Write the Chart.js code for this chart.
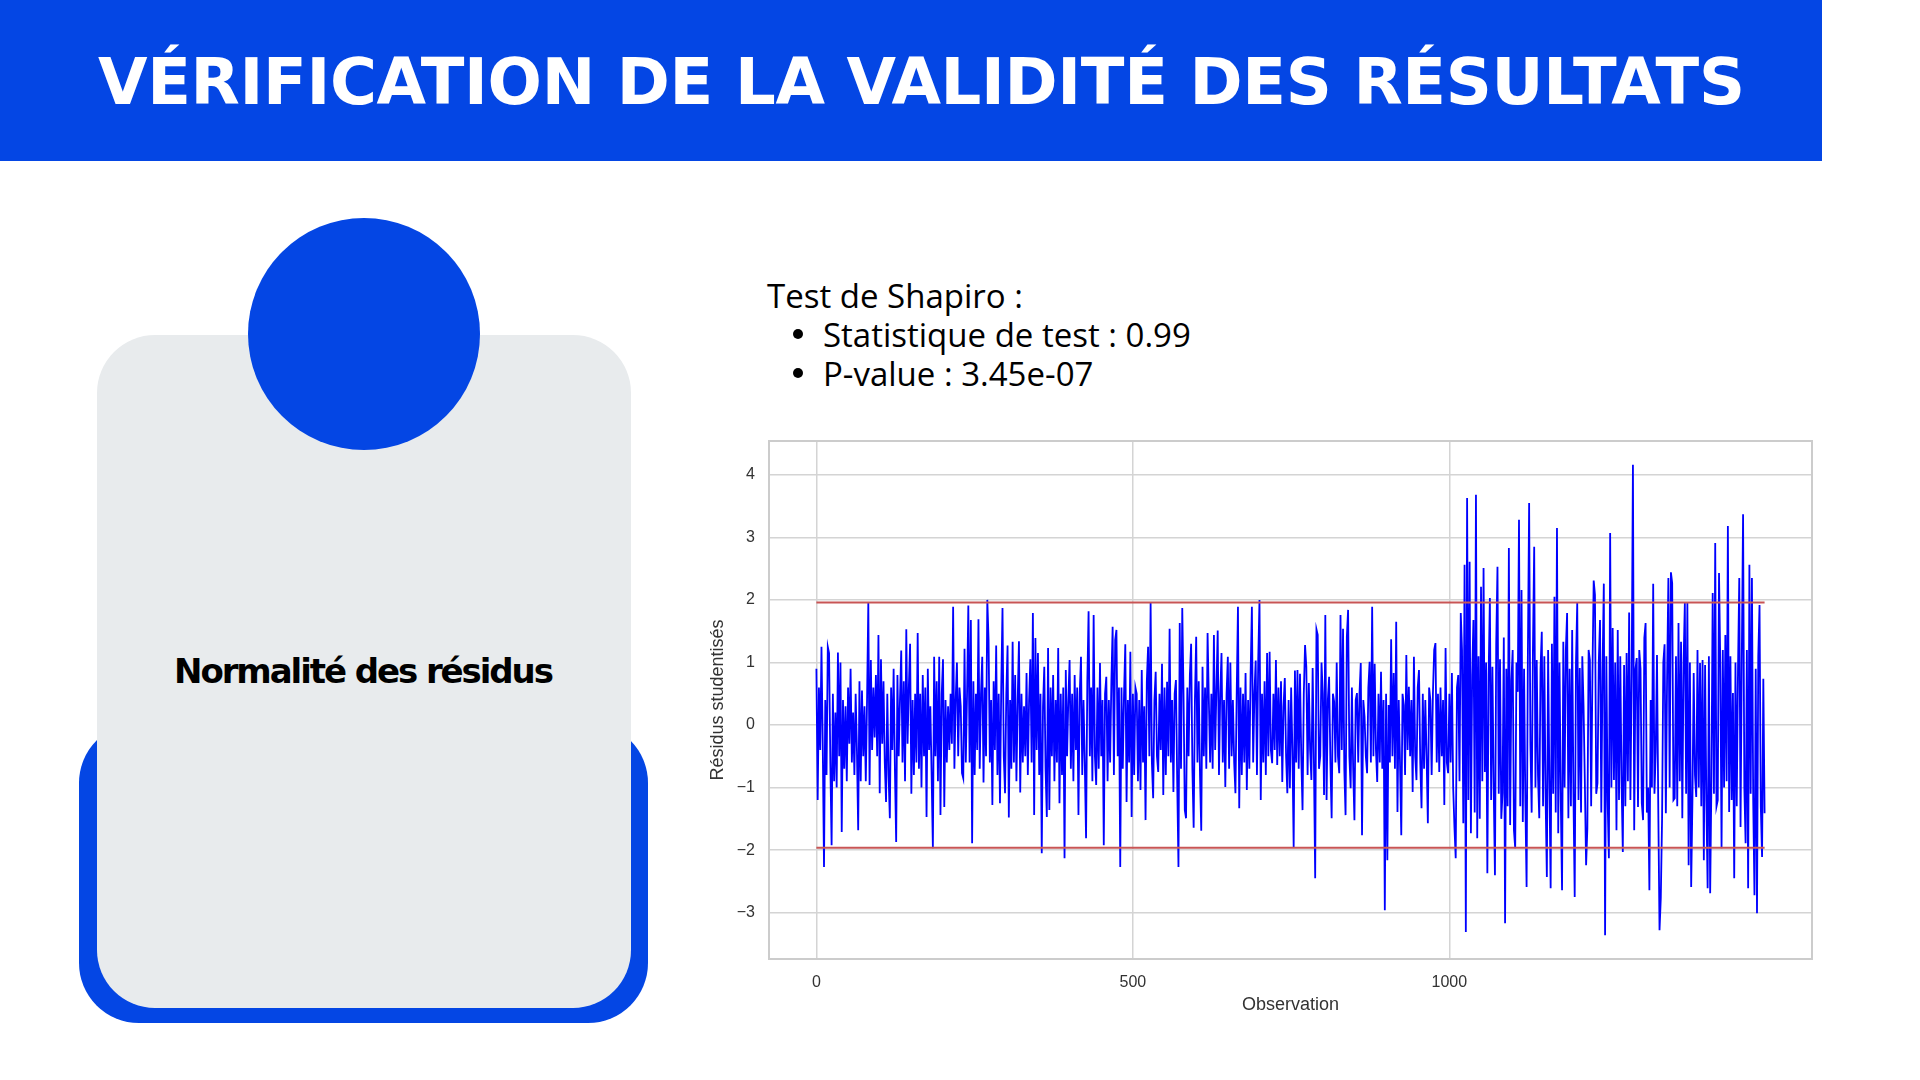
<!DOCTYPE html>
<html lang="fr">
<head>
<meta charset="utf-8">
<title>Vérification de la validité des résultats</title>
<script src="https://cdn.jsdelivr.net/npm/chart.js@4.4.1/dist/chart.umd.min.js"></script>
<style>
  html, body { margin: 0; padding: 0; }
  body { width: 1920px; height: 1080px; position: relative; overflow: hidden; background: #ffffff; font-family: "Open Sans", sans-serif; }
  .bandeau { position: absolute; left: 0; top: 0; width: 1822px; height: 161px; background: #0446e4; }
  .titre { position: absolute; left: 98px; top: 50px; margin: 0; font-family: "DejaVu Sans", sans-serif; font-weight: 700; font-size: 64px; line-height: 64px; color: #ffffff; white-space: nowrap; }
  .fond-bleu { position: absolute; left: 79px; top: 723px; width: 569px; height: 300px; background: #0446e4; border-radius: 60px; }
  .carte { position: absolute; left: 97px; top: 335px; width: 534px; height: 673px; background: #e8ebed; border-radius: 58px; }
  .rond { position: absolute; left: 248px; top: 218px; width: 232px; height: 232px; border-radius: 50%; background: #0446e4; }
  .label-carte { position: absolute; left: 174px; top: 653px; font-family: "DejaVu Sans", sans-serif; font-weight: 700; font-size: 34px; line-height: 36px; color: #000000; white-space: nowrap; }
  .ligne { position: absolute; font-size: 33px; line-height: 39px; color: #000000; white-space: nowrap; }
  .puce { position: absolute; width: 10px; height: 10px; border-radius: 50%; background: #000000; }
  #residusChart { position: absolute; left: 700px; top: 430px; }
</style>
</head>
<body>
<div class="bandeau"></div>
<h1 class="titre" id="titre">VÉRIFICATION DE LA VALIDITÉ DES RÉSULTATS</h1>

<div class="fond-bleu"></div>
<div class="carte"></div>
<div class="rond"></div>
<div class="label-carte" id="labelCarte">Normalité des résidus</div>

<div class="ligne" style="left:767px; top:276px;">Test de Shapiro :</div>
<div class="puce" style="left:793px; top:329px;"></div>
<div class="ligne" style="left:823px; top:315px;">Statistique de test : 0.99</div>
<div class="puce" style="left:793px; top:368px;"></div>
<div class="ligne" style="left:823px; top:354px;">P-value : 3.45e-07</div>

<canvas id="residusChart" width="1130" height="600"></canvas>

<script>
// résidus studentisés, une valeur toutes les 2 observations
const obsStep = 2;
const residus = [
  0.9,-1.2,0.6,-0.4,1.25,-0.3,-2.27,0.4,-0.8,1.25,
  1.15,-0.6,-1.92,0.5,-0.9,0.2,-1.0,1.16,-0.5,1.0,
  -1.71,0.4,-0.7,0.3,-0.9,0.6,-0.3,0.9,-0.6,0.2,
  -0.8,0.5,-0.4,-1.68,0.7,-0.9,0.55,-0.5,0.3,-0.9,
  0.4,1.95,-0.96,1.04,-0.4,0.6,-0.2,0.8,-0.5,1.44,
  -1.09,1.05,-0.3,0.7,-0.6,-1.23,0.5,-0.8,-1.49,0.6,
  -0.4,0.9,-0.7,-1.87,0.8,-0.5,0.4,1.19,-0.6,0.7,
  -0.9,1.53,-0.3,0.6,1.3,-1.1,0.4,-0.8,0.5,-0.6,
  1.47,-0.7,0.5,-1.0,0.8,-0.5,0.6,-1.47,0.9,-0.4,
  0.3,-0.8,-1.97,1.09,-0.5,0.7,-0.9,1.09,-1.44,0.5,
  1.05,-1.31,0.4,-0.6,0.3,-0.4,0.5,-0.3,1.89,-0.7,
  0.4,1.0,-0.5,0.6,0.3,-0.77,-0.85,1.22,-0.6,0.5,
  1.91,-0.6,1.68,-1.89,0.7,-0.8,0.5,-0.4,1.69,-0.7,
  0.5,1.09,-0.92,0.6,-0.5,2.0,1.36,-0.6,0.4,-1.28,
  0.7,-0.4,1.27,-0.8,0.5,-1.25,0.6,1.87,-0.5,-1.09,
  0.5,1.27,-1.48,0.4,-0.7,1.33,-0.6,0.8,-0.9,0.4,
  1.34,-1.08,0.5,-0.6,0.3,-0.5,0.83,-0.8,0.4,1.05,
  -0.6,1.79,-1.44,1.39,-0.4,1.15,-0.8,0.5,-2.05,0.3,
  0.93,-0.7,-1.47,1.23,-1.36,0.6,-0.5,0.8,-0.9,0.4,
  -0.6,1.23,-1.25,0.5,-0.8,0.6,-2.13,0.88,-0.5,0.4,
  1.04,-0.7,0.5,-0.9,0.8,-0.4,0.6,-1.44,0.5,1.09,
  -0.8,0.4,-0.6,-1.81,0.7,1.82,-0.5,0.6,-0.9,1.76,
  -0.5,-0.96,0.6,-0.7,0.99,-0.5,0.4,-1.92,0.5,0.77,
  -0.9,0.4,-0.6,0.7,1.57,-0.8,1.36,1.52,-0.5,0.6,
  -2.27,0.6,-0.7,0.5,1.29,-1.23,0.4,-0.6,1.17,-1.47,
  0.5,-0.8,0.6,0.5,-0.9,0.4,-1.04,0.88,-0.6,0.3,
  -1.52,0.7,1.25,-0.5,1.95,-0.6,-1.17,0.4,0.85,-0.5,
  -0.75,0.5,-0.4,0.98,-1.12,0.6,-0.8,0.69,-0.5,1.54,
  -0.6,0.4,-1.07,0.5,0.72,-0.9,-2.27,1.63,-0.7,1.87,
  0.5,-1.36,-1.49,0.6,-0.5,0.8,1.3,-0.7,-1.64,0.4,
  1.41,-0.6,0.7,-0.8,-1.69,0.93,-0.5,0.6,-0.7,1.47,
  0.4,-0.6,0.5,-0.7,1.44,-0.4,0.6,1.51,-0.8,0.5,
  1.15,-0.6,0.4,-0.99,0.5,1.09,-0.7,1.0,-0.5,0.4,
  -0.6,-1.09,0.5,1.89,-1.33,0.6,-0.8,0.5,-0.6,0.83,
  -1.04,0.4,-0.7,0.83,1.89,-0.6,0.5,1.03,-0.8,1.04,
  2.0,-1.2,0.5,-0.6,0.7,-0.8,1.15,-0.5,1.17,-0.4,
  -0.61,0.5,-0.4,1.04,-0.64,0.6,-0.5,0.7,-0.91,0.3,
  0.75,-0.5,-1.09,0.4,-1.01,0.6,-0.4,-1.95,0.87,-0.6,
  0.88,-0.7,0.82,-0.5,-1.36,0.5,1.28,0.93,-0.8,0.67,
  -0.4,-0.88,0.91,-0.6,-2.45,1.53,1.44,-0.7,-0.5,1.0,
  0.5,-1.12,1.76,-1.2,0.4,0.77,-0.6,-1.49,0.5,0.37,
  -0.6,1.0,-0.5,-0.77,1.76,-0.4,1.54,-0.7,-1.44,1.41,
  1.84,-0.5,-1.01,0.6,-0.7,-1.52,0.4,0.51,-0.6,0.5,
  0.99,-1.76,0.4,0.13,-0.5,-0.77,0.6,1.01,-0.6,1.89,
  -0.5,0.98,-0.4,-0.91,0.5,-0.6,0.85,-0.7,0.4,-2.96,
  0.5,-2.16,0.32,-0.6,1.37,-0.5,0.83,-0.7,1.65,-1.39,
  0.4,-0.6,-1.76,0.5,0.32,-0.8,1.12,-0.4,0.61,-0.5,
  0.4,-1.07,1.09,-0.5,-0.88,0.6,0.88,-0.6,-1.33,0.5,
  -0.7,0.4,-0.5,-1.57,0.6,0.4,-0.8,0.5,1.2,1.31,
  -0.6,0.5,-0.75,0.6,-0.5,0.4,-1.28,1.23,-0.6,-0.77,
  0.5,-0.6,0.83,-1.0,-1.63,-2.13,0.6,0.8,-0.9,1.79,
  1.2,-1.57,2.56,-3.31,3.63,-1.2,2.61,-1.73,0.8,1.68,
  -1.4,3.68,-1.81,1.1,-1.5,2.21,-0.9,2.51,-0.75,1.0,
  -2.37,0.8,2.03,-1.2,0.93,-1.0,-2.4,1.3,2.53,-1.1,
  1.05,-1.5,-1.09,1.4,-3.17,0.9,-1.3,2.83,-1.6,0.72,
  1.2,-1.68,-1.97,1.0,0.53,3.28,-1.3,2.16,-1.55,0.9,
  -1.2,-2.59,1.1,3.55,-0.29,-1.4,1.2,2.85,-1.0,1.04,
  -0.8,-1.49,0.9,1.49,-1.3,1.1,-1.15,-2.43,1.2,-0.9,
  -2.61,1.3,-1.1,2.05,-1.4,3.15,-1.73,1.0,-1.2,-2.64,
  1.33,-1.0,1.2,1.79,-1.49,0.9,-1.3,1.52,-1.1,-2.75,
  1.0,1.95,-1.2,0.91,-1.4,1.1,0.29,-0.9,-2.24,-1.65,
  1.2,1.04,-1.3,0.8,2.31,2.08,-1.1,-0.93,1.0,1.68,
  -1.4,0.9,2.26,-3.36,1.1,-1.2,-2.13,3.07,-1.0,1.55,
  -0.88,1.0,-1.68,1.52,-1.2,1.1,-0.9,-2.03,0.96,-1.3,
  1.15,-0.9,1.8,-1.2,0.8,4.16,-1.68,0.9,1.07,-1.31,
  1.2,0.9,-1.25,-1.52,1.39,1.63,-1.4,-1.0,-2.64,0.4,
  -1.0,2.26,-1.1,-0.43,1.12,-1.3,-3.28,-2.77,-1.52,1.0,
  1.29,-1.41,0.8,2.35,-1.0,2.44,2.27,-1.2,-1.17,1.1,
  -1.3,1.63,-0.9,1.33,-1.49,1.0,1.95,-1.1,1.96,-2.24,
  1.0,-2.59,-1.2,0.83,-0.8,-1.15,1.2,-1.0,0.99,-1.3,
  1.04,-2.16,0.96,-1.2,-2.61,1.1,-2.69,-0.9,2.11,-1.1,
  2.91,-1.3,-1.2,2.43,1.0,-1.97,1.2,-1.0,1.44,-0.9,
  3.18,-1.39,1.1,-1.2,0.51,-2.45,1.0,-1.3,0.9,2.35,
  -1.63,1.1,3.37,-1.0,-1.89,1.2,-2.61,2.56,-1.1,2.35,
  -1.2,-2.72,0.9,-3.01,1.1,1.92,-1.3,-2.11,0.74,-1.41
];
const seuil = 1.96;
const xTicks = [0, 500, 1000];
const yTicks = [-3, -2, -1, 0, 1, 2, 3, 4];

const derniereObs = (residus.length - 1) * obsStep;
const points = residus.map((v, i) => ({ x: i * obsStep, y: v }));

const texteAxe = '#333333';
const police = '"Liberation Sans", Arial, sans-serif';

// cadre gris autour de la zone de tracé
const cadre = {
  id: 'cadre',
  beforeDatasetsDraw(chart) {
    const { ctx, chartArea: a } = chart;
    ctx.save();
    ctx.strokeStyle = '#cccccc';
    ctx.lineWidth = 2;
    ctx.strokeRect(a.left, a.top, a.right - a.left, a.bottom - a.top);
    ctx.restore();
  }
};

function sansMarge(s) {
  s.paddingTop = 0; s.paddingBottom = 0; s.paddingLeft = 0; s.paddingRight = 0;
}

new Chart(document.getElementById('residusChart'), {
  type: 'line',
  data: {
    datasets: [
      {
        label: 'Résidus',
        data: points,
        borderColor: '#0000ff',
        borderWidth: 1.8,
        pointRadius: 0,
        tension: 0,
        order: 1
      },
      {
        label: 'seuil haut',
        data: [{ x: 0, y: seuil }, { x: derniereObs, y: seuil }],
        borderColor: 'rgb(200,85,85)',
        borderWidth: 2,
        pointRadius: 0,
        order: 0
      },
      {
        label: 'seuil bas',
        data: [{ x: 0, y: -seuil }, { x: derniereObs, y: -seuil }],
        borderColor: 'rgb(200,85,85)',
        borderWidth: 2,
        pointRadius: 0,
        order: 0
      }
    ]
  },
  options: {
    responsive: false,
    animation: false,
    events: [],
    layout: { padding: { left: 0, top: 11, right: 18, bottom: 0 } },
    plugins: { legend: { display: false }, tooltip: { enabled: false } },
    scales: {
      x: {
        type: 'linear',
        min: -0.05 * derniereObs,
        max: derniereObs * 1.05,
        afterBuildTicks: s => { s.ticks = xTicks.map(v => ({ value: v })); },
        afterFit: s => { s.height = 71; sansMarge(s); },
        border: { display: false },
        grid: { color: '#d4d4d4', lineWidth: 1.5, drawTicks: false },
        ticks: {
          padding: 14, color: texteAxe, font: { family: police, size: 16 }, maxRotation: 0,
          callback: v => String(v)
        },
        title: { display: true, text: 'Observation', color: texteAxe, font: { family: police, size: 18 }, padding: { top: 0, bottom: 14 } }
      },
      y: {
        min: -3.74,
        max: 4.54,
        afterBuildTicks: s => { s.ticks = yTicks.map(v => ({ value: v })); },
        afterFit: s => { s.width = 69; sansMarge(s); },
        border: { display: false },
        grid: { color: '#d4d4d4', lineWidth: 1.5, drawTicks: false },
        ticks: {
          padding: 14, color: texteAxe, font: { family: police, size: 16 },
          callback: v => (v < 0 ? '\u2212' + Math.abs(v) : String(v))
        },
        title: { display: true, text: 'Résidus studentisés', color: texteAxe, font: { family: police, size: 18 }, padding: { top: 7, bottom: 0 } }
      }
    }
  },
  plugins: [cadre]
});

// ajuste l'interlettrage pour retrouver la largeur des textes
function ajusteLargeur(id, cible) {
  const el = document.getElementById(id);
  el.style.letterSpacing = '0px';
  const w = el.getBoundingClientRect().width;
  const n = el.textContent.length;
  el.style.letterSpacing = ((cible - w) / (n - 1)) + 'px';
}
function ajusteTextes() {
  ajusteLargeur('titre', 1647);
  ajusteLargeur('labelCarte', 380);
}
ajusteTextes();
document.fonts.ready.then(ajusteTextes);
</script>
</body>
</html>
